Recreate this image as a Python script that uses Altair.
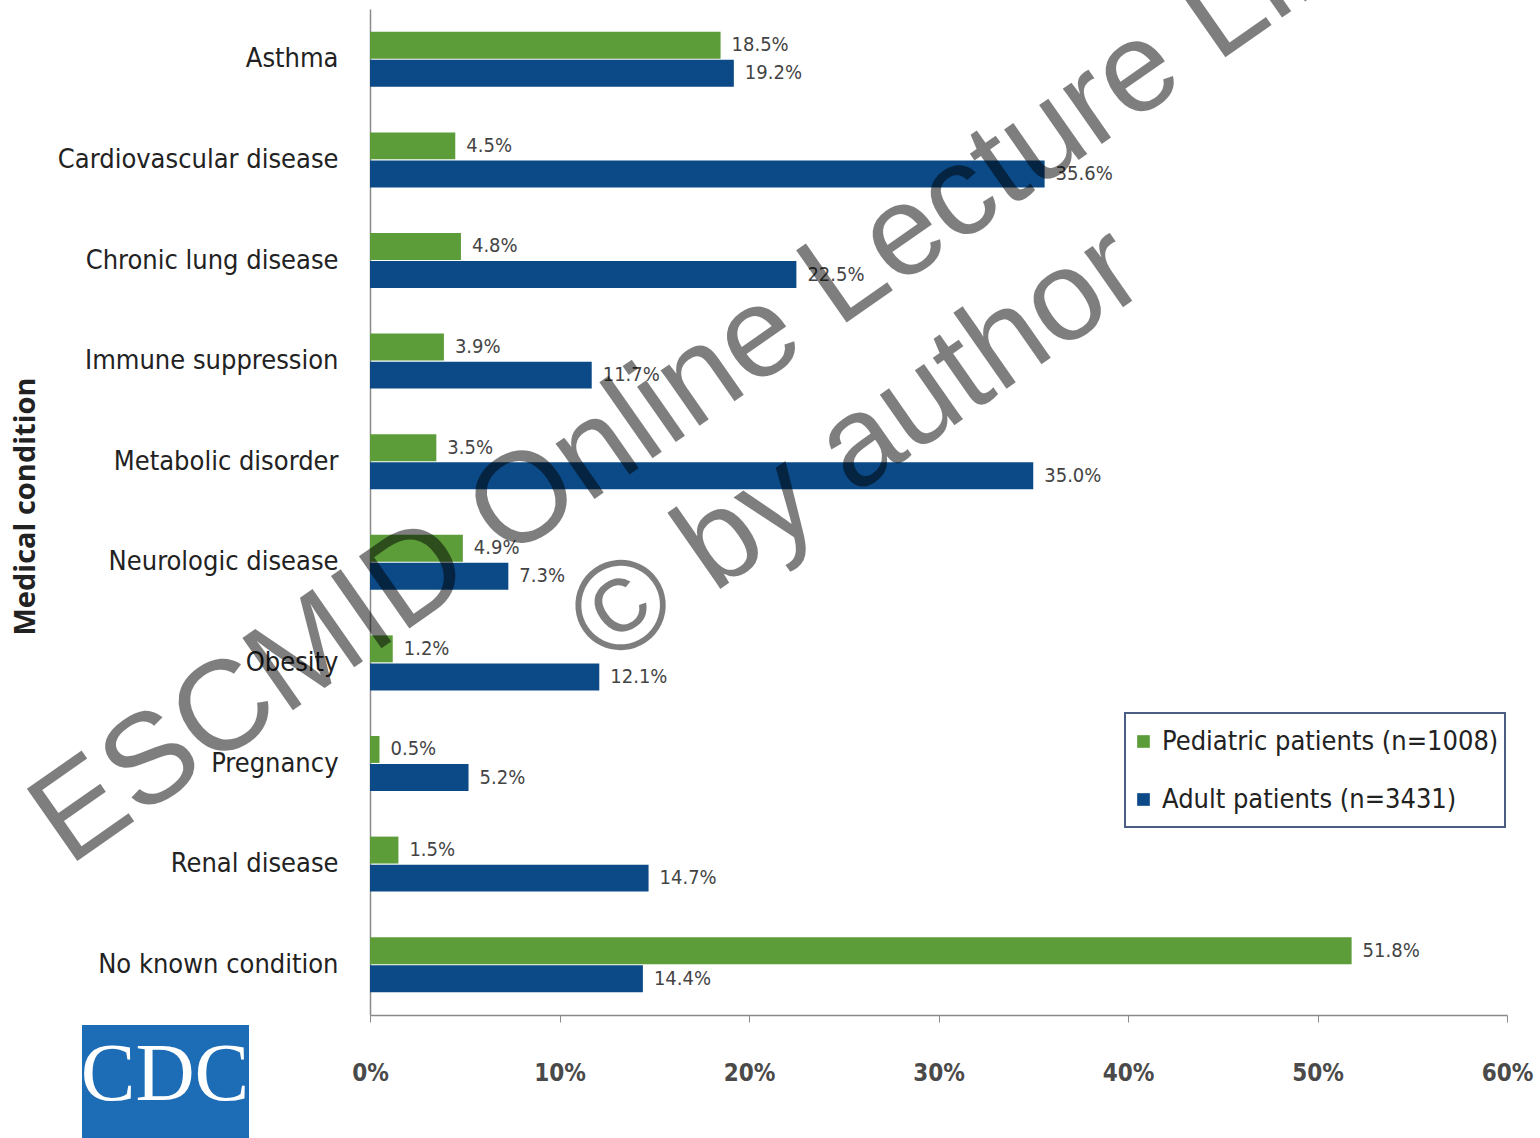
import altair as alt
import pandas as pd

# Share of hospitalised patients with each underlying medical condition
conditions = [
    "Asthma",
    "Cardiovascular disease",
    "Chronic lung disease",
    "Immune suppression",
    "Metabolic disorder",
    "Neurologic disease",
    "Obesity",
    "Pregnancy",
    "Renal disease",
    "No known condition",
]
pediatric_pct = [18.5, 4.5, 4.8, 3.9, 3.5, 4.9, 1.2, 0.5, 1.5, 51.8]
adult_pct = [19.2, 35.6, 22.5, 11.7, 35.0, 7.3, 12.1, 5.2, 14.7, 14.4]

series_names = ["Pediatric patients (n=1008)", "Adult patients (n=3431)"]
series_colors = ["#5c9d3a", "#0b4a86"]
x_ticks = [0, 10, 20, 30, 40, 50, 60]

rows = []
for cond, p, a in zip(conditions, pediatric_pct, adult_pct):
    rows.append({"condition": cond, "series": series_names[0], "value": p})
    rows.append({"condition": cond, "series": series_names[1], "value": a})
df = pd.DataFrame(rows)

LABEL_FONT = "DejaVu Sans Condensed"

y_enc = alt.Y(
    "condition:N",
    sort=conditions,
    scale=alt.Scale(paddingInner=0.453, paddingOuter=0.2265),
    axis=alt.Axis(
        title="Medical condition",
        titleFont="Open Sans",
        titleFontSize=29,
        titleFontWeight="bold",
        titleColor="#222222",
        titleAngle=270,
        titleAlign="center",
        titleBaseline="middle",
        titleX=-345,
        titleY=497,
        labelFont=LABEL_FONT,
        labelFontSize=27,
        labelColor="#222222",
        labelPadding=32,
        labelLimit=400,
        ticks=False,
        tickSize=0,
        domainColor="#8a8a8a",
        domainWidth=1.5,
        grid=False,
    ),
)
yoff_enc = alt.YOffset(
    "series:N", sort=series_names, scale=alt.Scale(paddingInner=0.04)
)
x_enc = alt.X(
    "value:Q",
    scale=alt.Scale(domain=[0, 60], nice=False),
    axis=alt.Axis(
        title=None,
        values=x_ticks,
        labelExpr="datum.value + '%'",
        labelFont=LABEL_FONT,
        labelFontSize=24,
        labelFontWeight="bold",
        labelColor="#4a4a4a",
        labelPadding=39,
        labelFlush=False,
        tickSize=7,
        tickColor="#8a8a8a",
        domainColor="#8a8a8a",
        domainWidth=1.5,
        grid=False,
    ),
)

bars = alt.Chart(df).mark_bar().encode(
    x=x_enc,
    y=y_enc,
    yOffset=yoff_enc,
    color=alt.Color(
        "series:N",
        sort=series_names,
        scale=alt.Scale(domain=series_names, range=series_colors),
        legend=alt.Legend(
            title=None,
            orient="none",
            legendX=760,
            legendY=719,
            symbolType="square",
            symbolSize=160,
            symbolStrokeWidth=0,
            labelFont=LABEL_FONT,
            labelFontSize=27,
            labelColor="#222222",
            labelLimit=450,
            labelOffset=5,
            rowPadding=30,
            padding=0,
        ),
    ),
)

# Frame drawn around the legend entries
legend_frame = (
    alt.Chart(alt.Data(values=[{"k": 1}]))
    .mark_rect(fillOpacity=0, stroke="#4b5d80", strokeWidth=2)
    .encode(
        x=alt.value(755), x2=alt.value(1135), y=alt.value(704), y2=alt.value(818)
    )
)

value_labels = (
    alt.Chart(df)
    .transform_calculate(label="format(datum.value, '.1f') + '%'")
    .mark_text(
        align="left",
        baseline="middle",
        dx=11,
        font=LABEL_FONT,
        fontSize=20,
        color="#444444",
    )
    .encode(
        x="value:Q",
        y=alt.Y("condition:N", sort=conditions),
        yOffset=alt.YOffset("series:N", sort=series_names),
        text="label:N",
    )
)

# Watermark lines, semi-transparent grey, running diagonally over the plot
wm_style = dict(
    font="Liberation Sans",
    fontSize=128,
    angle=325,
    align="center",
    baseline="alphabetic",
    color="#000000",
    opacity=0.5,
)
wm_line1 = (
    alt.Chart(alt.Data(values=[{"t": "ESCMID Online Lecture Library"}]))
    .mark_text(**wm_style)
    .encode(x=alt.value(433), y=alt.value(344), text="t:N")
)
wm_line2 = (
    alt.Chart(alt.Data(values=[{"t": "© by author"}]))
    .mark_text(**wm_style)
    .encode(x=alt.value(509), y=alt.value(469), text="t:N")
)

# Agency logo in the lower-left corner
logo_box = (
    alt.Chart(alt.Data(values=[{"k": 1}]))
    .mark_rect(color="#1c6db5")
    .encode(
        x=alt.value(-288), x2=alt.value(-121), y=alt.value(1016), y2=alt.value(1135)
    )
)
logo_text = (
    alt.Chart(alt.Data(values=[{"t": "CDC"}]))
    .mark_text(
        font="Liberation Serif",
        fontSize=82,
        color="white",
        align="center",
        baseline="alphabetic",
    )
    .encode(x=alt.value(-205), y=alt.value(1091), text="t:N")
)

chart = (
    alt.layer(
        bars, value_labels, legend_frame, logo_box, logo_text, wm_line1, wm_line2
    )
    .properties(
        width=1137,
        height=1006,
        autosize=alt.AutoSizeParams(type="none"),
        padding={"left": 370, "top": 9, "right": 33, "bottom": 123},
        background="white",
    )
    .configure_view(stroke=None)
)

chart.save("out.html", embed_options={"renderer": "svg", "actions": False})
